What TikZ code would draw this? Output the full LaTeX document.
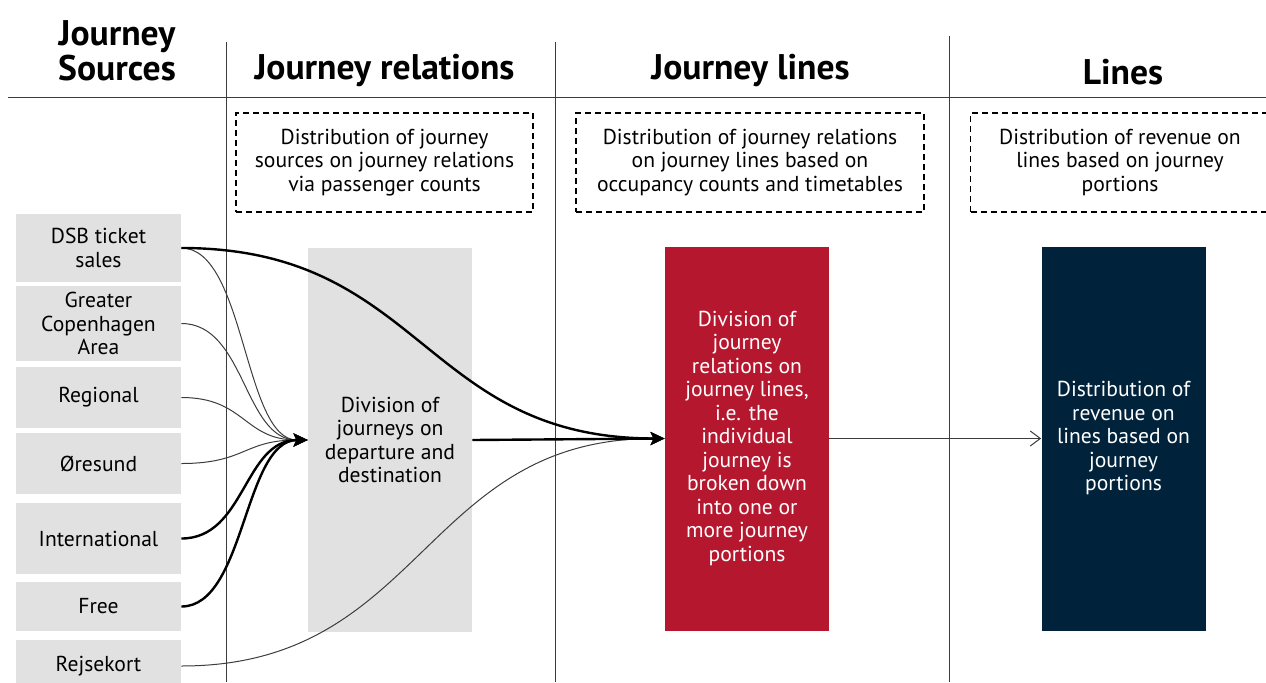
\documentclass[tikz,border=0pt]{standalone}
\usepackage{fontspec}
\setmainfont{PT Sans}
\usetikzlibrary{arrows.meta,positioning}
\definecolor{DSBgray}{RGB}{225,225,225}
\definecolor{DSBred}{RGB}{181,23,46}
\definecolor{DSBnavy}{RGB}{0,35,59}
\definecolor{rulegray}{RGB}{60,60,60}
\tikzstyle{heading}=[align=center,inner sep=0pt,font=\fontsize{17.8}{17.5}\selectfont\bfseries]
\tikzstyle{note}=[draw,dash pattern=on 3pt off 2pt,line width=0.75pt,align=center,inner sep=0pt,minimum height=49.5pt,font=\fontsize{10.8}{11.75}\selectfont]
\tikzstyle{source}=[fill=DSBgray,minimum width=82.5pt,inner sep=0pt,align=center,font=\fontsize{10.8}{11.75}\selectfont]
\tikzstyle{stage}=[minimum width=82pt,minimum height=192pt,inner sep=0pt,align=center,font=\fontsize{10.8}{11.75}\selectfont]
\tikzstyle{divider}=[rulegray,line width=0.5pt]
\tikzstyle{feed}=[rulegray,line width=0.5pt]
\tikzstyle{mainflow}=[black,line width=1.2pt]

\begin{document}
\begin{tikzpicture}[x=0.5pt,y=-0.5pt,>={Stealth[length=7pt,width=6.5pt,inset=1.5pt]}]
  \useasboundingbox (0,0) rectangle (1266,682);

  % column headings
  \node[heading] (hsources) at (117,51) {Journey\\Sources};
  \node[heading] (hrelations) at (384.5,70) {Journey relations};
  \node[heading] (hjlines) at (750.5,70) {Journey lines};
  \node[heading] (hlines) at (1123,72) {Lines};

  % rules between columns
  \draw[divider] (8,97) -- (1266,97);
  \draw[divider] (226,42) -- (226,682);
  \draw[divider] (555,42) -- (555,682);
  \draw[divider] (949,36) -- (949,682);

  % method notes
  \node[note,minimum width=148.5pt] (nrelations) at (384.5,162.5) {Distribution of journey\\sources on journey relations\\via passenger counts};
  \node[note,minimum width=174pt] (njlines) at (750,162.5) {Distribution of journey relations\\on journey lines based on\\occupancy counts and timetables};
  \node[note,minimum width=149.5pt] (nlines) at (1120,162.5) {Distribution of revenue on\\lines based on journey\\portions};

  % journey sources
  \node[source,minimum height=34pt] (dsb) at (98.5,248) {DSB ticket\\sales};
  \node[source,minimum height=37.5pt] (gca) at (98.5,323.5) {Greater\\Copenhagen\\Area};
  \node[source,minimum height=30.5pt] (regional) at (98.5,397.5) {Regional};
  \node[source,minimum height=30.5pt] (oresund) at (98.5,463.5) {Øresund};
  \node[source,minimum height=35.5pt] (intl) at (98.5,538.5) {International};
  \node[source,minimum height=24.5pt] (free) at (98.5,606.5) {Free};
  \node[source,minimum height=26pt] (rejsekort) at (98.5,666) {Rejsekort};

  % stages
  \node[stage,fill=DSBgray] (relations) at (390,440) {Division of\\journeys on\\departure and\\destination};
  \node[stage,fill=DSBred,text=white] (jlines) at (747,438.5) {Division of\\journey\\relations on\\journey lines,\\i.e. the\\individual\\journey is\\broken down\\into one or\\more journey\\portions};
  \node[stage,fill=DSBnavy,text=white] (lines) at (1123.5,438.5) {Distribution of\\revenue on\\lines based on\\journey\\portions};

  % sources into journey relations
  \draw[feed,->] (dsb.east) .. controls +(64,0) and +(-64,0) .. (relations.west);
  \draw[feed,->] (gca.east) .. controls +(64,0) and +(-64,0) .. (relations.west);
  \draw[feed,->] (regional.east) .. controls +(64,0) and +(-64,0) .. (relations.west);
  \draw[feed,->] (oresund.east) .. controls +(64,0) and +(-64,0) .. (relations.west);
  \draw[mainflow,->] (intl.east) .. controls +(64,0) and +(-64,0) .. (relations.west);
  \draw[mainflow,->] (free.east) .. controls +(64,0) and +(-64,0) .. (relations.west);

  % into journey lines
  \draw[feed,->] (rejsekort.east) .. controls +(242,0) and +(-242,0) .. (jlines.west);
  \draw[mainflow,->] (dsb.east) .. controls +(242,0) and +(-242,0) .. (jlines.west);
  \draw[mainflow,->] (relations.east) -- (jlines.west);

  % into lines
  \draw[feed,-{Straight Barb[length=5pt,width=7.5pt]}] (jlines.east) -- (lines.west);

\end{tikzpicture}
\end{document}
